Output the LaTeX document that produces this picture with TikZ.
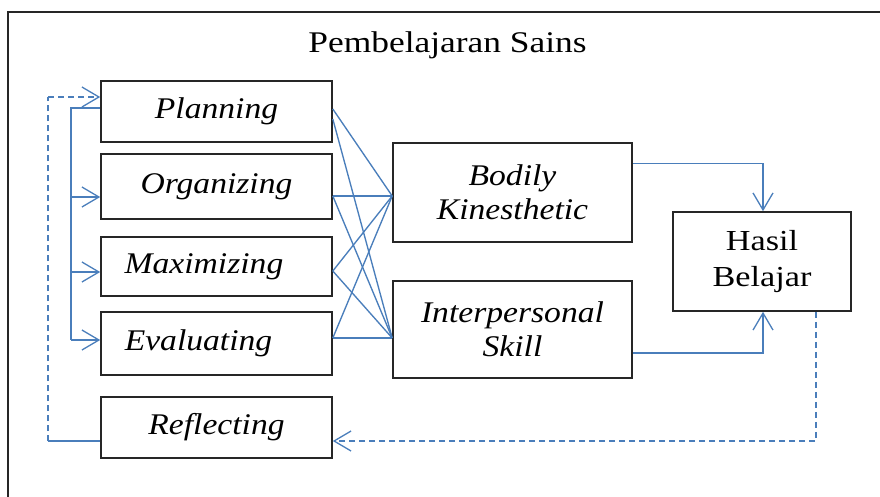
\documentclass[tikz,border=0pt]{standalone}
\usepackage{fontspec}
\setmainfont{Liberation Serif}[FakeStretch=1.12]
\newfontfamily\widefont{Liberation Serif}[FakeStretch=1.18]
\usetikzlibrary{arrows.meta}
\definecolor{lineblue}{HTML}{4A7EBB}
\definecolor{boxline}{HTML}{262626}
\begin{document}
\begin{tikzpicture}[x=1pt,y=-1pt,
  box/.style={draw=boxline, line width=1.6pt, inner sep=0pt, align=center,
    font=\fontsize{30}{34}\selectfont\itshape},
  lbox/.style={box, minimum width=231pt},
  conn/.style={draw=lineblue, line width=1.35pt},
  arr/.style={conn, -{Straight Barb[length=17pt,width=20pt,line width=1.3pt]}},
  dashline/.style={conn, dash pattern=on 6pt off 4pt},
  dasharr/.style={arr, dash pattern=on 6pt off 4pt}
]
\useasboundingbox (0,0) rectangle (880,496);
% frame
\draw[boxline, line width=1.5pt] (8,500) -- (8,12) -- (884,12);
% title
\node[anchor=base, inner sep=0pt, font=\widefont\fontsize{30}{34}\selectfont] (title) at (447.5,52) {Pembelajaran Sains};
% left boxes
\node[lbox, minimum height=61pt] (plan) at (216.5,111.5) {Planning};
\node[lbox, minimum height=65pt] (org)  at (216.5,186.5) {Organizing};
\node[lbox, minimum height=59pt] (max)  at (216.5,266.5) {Maximizing\hspace*{25pt}};
\node[lbox, minimum height=63pt] (eval) at (216.5,343.5) {Evaluating\hspace*{36pt}};
\node[lbox, minimum height=61pt] (refl) at (216.5,427.5) {Reflecting};
% middle boxes
\node[box, minimum width=239pt, minimum height=99pt] (bod) at (512.5,192.5) {Bodily\\Kinesthetic};
\node[box, minimum width=239pt, minimum height=97pt] (int) at (512.5,329.5) {Interpersonal\\Skill};
% result
\node[box, minimum width=178pt, minimum height=99pt, font=\widefont\fontsize{29}{36}\selectfont] (has) at (762,261.5) {Hasil\\Belajar};
% crossing lines
\draw[conn] ([yshift=2.5pt]plan.east) -- ([yshift=-3.5pt]bod.west);
\draw[conn] ([yshift=-7.5pt]plan.east) -- ([yshift=-8.5pt]int.west);
\draw[conn] ([yshift=-9.5pt]org.east) -- ([yshift=-3.5pt]bod.west);
\draw[conn] ([yshift=-9.5pt]org.east) -- ([yshift=-8.5pt]int.west);
\draw[conn] ([yshift=-4.5pt]max.east) -- ([yshift=-3.5pt]bod.west);
\draw[conn] ([yshift=-4.5pt]max.east) -- ([yshift=-8.5pt]int.west);
\draw[conn] ([yshift=5.5pt]eval.east) -- ([yshift=-3.5pt]bod.west);
\draw[conn] ([yshift=5.5pt]eval.east) -- ([yshift=-8.5pt]int.west);
% left bus
\coordinate (bo) at (71,197);
\coordinate (bm) at (71,272);
\coordinate (be) at (71,340);
\draw[conn] ([yshift=3.5pt]plan.west) -| (be);
\draw[arr] (bo) -- ([yshift=-10.5pt]org.west);
\draw[arr] (bm) -- ([yshift=-5.5pt]max.west);
\draw[arr] (be) -- ([yshift=3.5pt]eval.west);
% feedback from reflecting
\coordinate (fb) at (48,441);
\coordinate (ft) at (48,97);
\draw[conn] ([yshift=-13.5pt]refl.west) -- (fb);
\draw[dashline] (fb) -- (ft);
\draw[dasharr] (ft) -- ([yshift=14.5pt]plan.west);
% to result
\draw[arr] ([yshift=29pt]bod.east) -| ([xshift=1pt]has.north);
\draw[arr] ([yshift=-23.5pt]int.east) -| ([xshift=1pt]has.south);
\draw[dasharr] ([xshift=54pt]has.south) |- ([yshift=-13.5pt]refl.east);
\end{tikzpicture}
\end{document}
